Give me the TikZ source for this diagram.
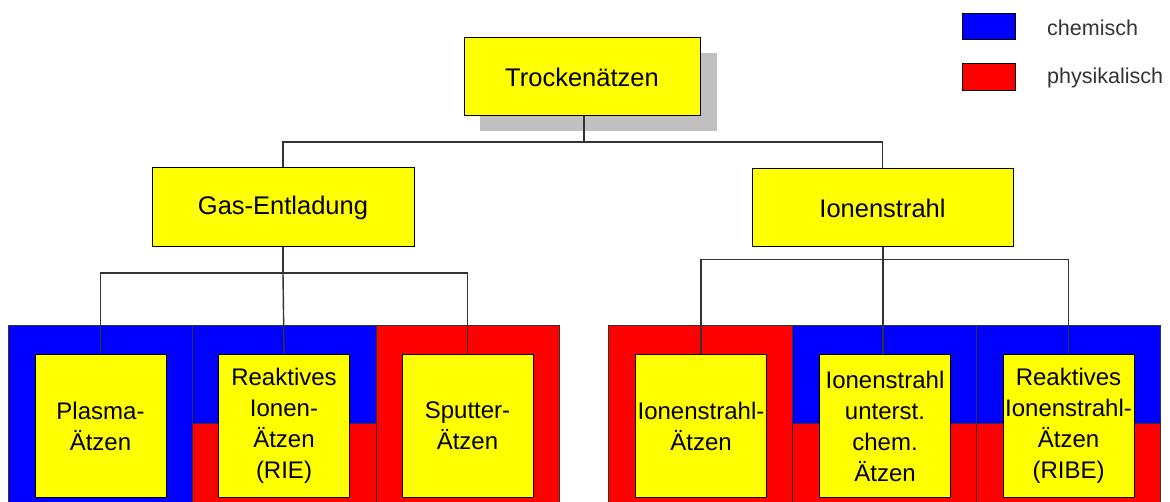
\documentclass[tikz,border=0pt]{standalone}
\usepackage{fontspec}
\setmainfont{Liberation Sans}
\definecolor{cblue}{HTML}{0000FF}
\definecolor{cred}{HTML}{FF0000}
\definecolor{cyel}{HTML}{FFFF00}
\definecolor{cshadow}{HTML}{C0C0C0}
\definecolor{cline}{HTML}{333333}
\begin{document}
\begin{tikzpicture}[x=1pt,y=-1pt,
  topbox/.style={draw=black,line width=1pt,fill=cyel,inner sep=1pt,
    font=\fontsize{25.5}{30}\selectfont},
  leafbox/.style={draw=black,line width=1pt,fill=cyel,inner sep=1pt,
    minimum width=131,minimum height=143,align=center,
    font=\fontsize{24}{31}\selectfont},
  frame/.style={draw=black!80,line width=0.8pt},
  conn/.style={draw=cline,line width=1.4pt},
  legtext/.style={anchor=west,text=black!80,inner sep=0pt,
    font=\fontsize{21.5}{25}\selectfont}
]
\useasboundingbox (0,0) rectangle (1170,502);
% shadow
\fill[cshadow] (480,53) rectangle (717,131);
% top nodes
\node[topbox,minimum width=236,minimum height=78] (T) at (582,77) {Trockenätzen};
\node[topbox,minimum width=262,minimum height=79] (G) at (283,207.5) {Gas-Entladung};
\node[topbox,minimum width=261,minimum height=78] (I) at (882.5,208) {Ionenstrahl};
% legend
\node[draw=black,line width=0.8pt,fill=cblue,minimum width=53,minimum height=26,inner sep=0pt] (LB) at (988.5,26) {};
\node[draw=black,line width=0.8pt,fill=cred,minimum width=53,minimum height=27,inner sep=0pt] (LR) at (988.5,77) {};
\node[legtext] (LBt) at (1047,28) {chemisch};
\node[legtext] (LRt) at (1047,78) {physikalisch};
% column frames
% col1 blue
\fill[cblue] (8,325.5) rectangle (192.5,503);
% col2 blue/red
\fill[cblue] (192.5,325.5) rectangle (376,423.6);
\fill[cred] (192.5,423.6) rectangle (376,503);
% col3 red
\fill[cred] (376,325.5) rectangle (559,503);
% col4 red
\fill[cred] (608,325.5) rectangle (792.5,503);
% col5 blue/red
\fill[cblue] (792.5,325.5) rectangle (976,423.6);
\fill[cred] (792.5,423.6) rectangle (976,503);
% col6 blue/red
\fill[cblue] (976,325.5) rectangle (1160,423.6);
\fill[cred] (976,423.6) rectangle (1160,503);
% frame outlines
\draw[frame] (8,503) -- (8,325.5) -- (559,325.5) -- (559,503);
\draw[frame] (192.5,325.5) -- (192.5,503) (376,325.5) -- (376,503);
\draw[frame] (192.5,423.6) -- (376,423.6);
\draw[frame] (608,503) -- (608,325.5) -- (1160,325.5) -- (1160,503);
\draw[frame] (792.5,325.5) -- (792.5,503) (976,325.5) -- (976,503);
\draw[frame] (792.5,423.6) -- (1160,423.6);
% leaf boxes
\node[leafbox] (L1) at (100.5,426) {Plasma-\\Ätzen};
\node[leafbox] (L2) at (284,426) {Reaktives\\Ionen-\\Ätzen\\(RIE)};
\node[leafbox] (L3) at (467.5,426) {Sputter-\\Ätzen};
\node[leafbox] (L4) at (701,426) {Ionenstrahl-\\Ätzen};
\node[leafbox] (L5) at (885,426) {Ionenstrahl\\unterst.\\chem.\\Ätzen};
\node[leafbox] (L6) at (1068.5,426) {Reaktives\\Ionenstrahl-\\Ätzen\\(RIBE)};
% connectors
\coordinate (TJ) at (584,142);
\coordinate (GJ) at (283,273);
\coordinate (IJ) at (883,259.5);
\draw[conn] (T.south -| TJ) -- (TJ);
\draw[conn] (TJ) -| (G.north);
\draw[conn] (TJ) -| (I.north);
\draw[conn] (G.south) -- (GJ);
\draw[conn] (GJ) -| (L1.north);
\draw[conn] (GJ) -| (L3.north);
\draw[conn] (GJ) -- (L2.north);
\draw[conn] (I.south -| IJ) -- (IJ);
\draw[conn] (IJ) -| (L4.north);
\draw[conn] (IJ) -| (L6.north);
\draw[conn] (IJ) -- (L5.north -| IJ);
\end{tikzpicture}
\end{document}
